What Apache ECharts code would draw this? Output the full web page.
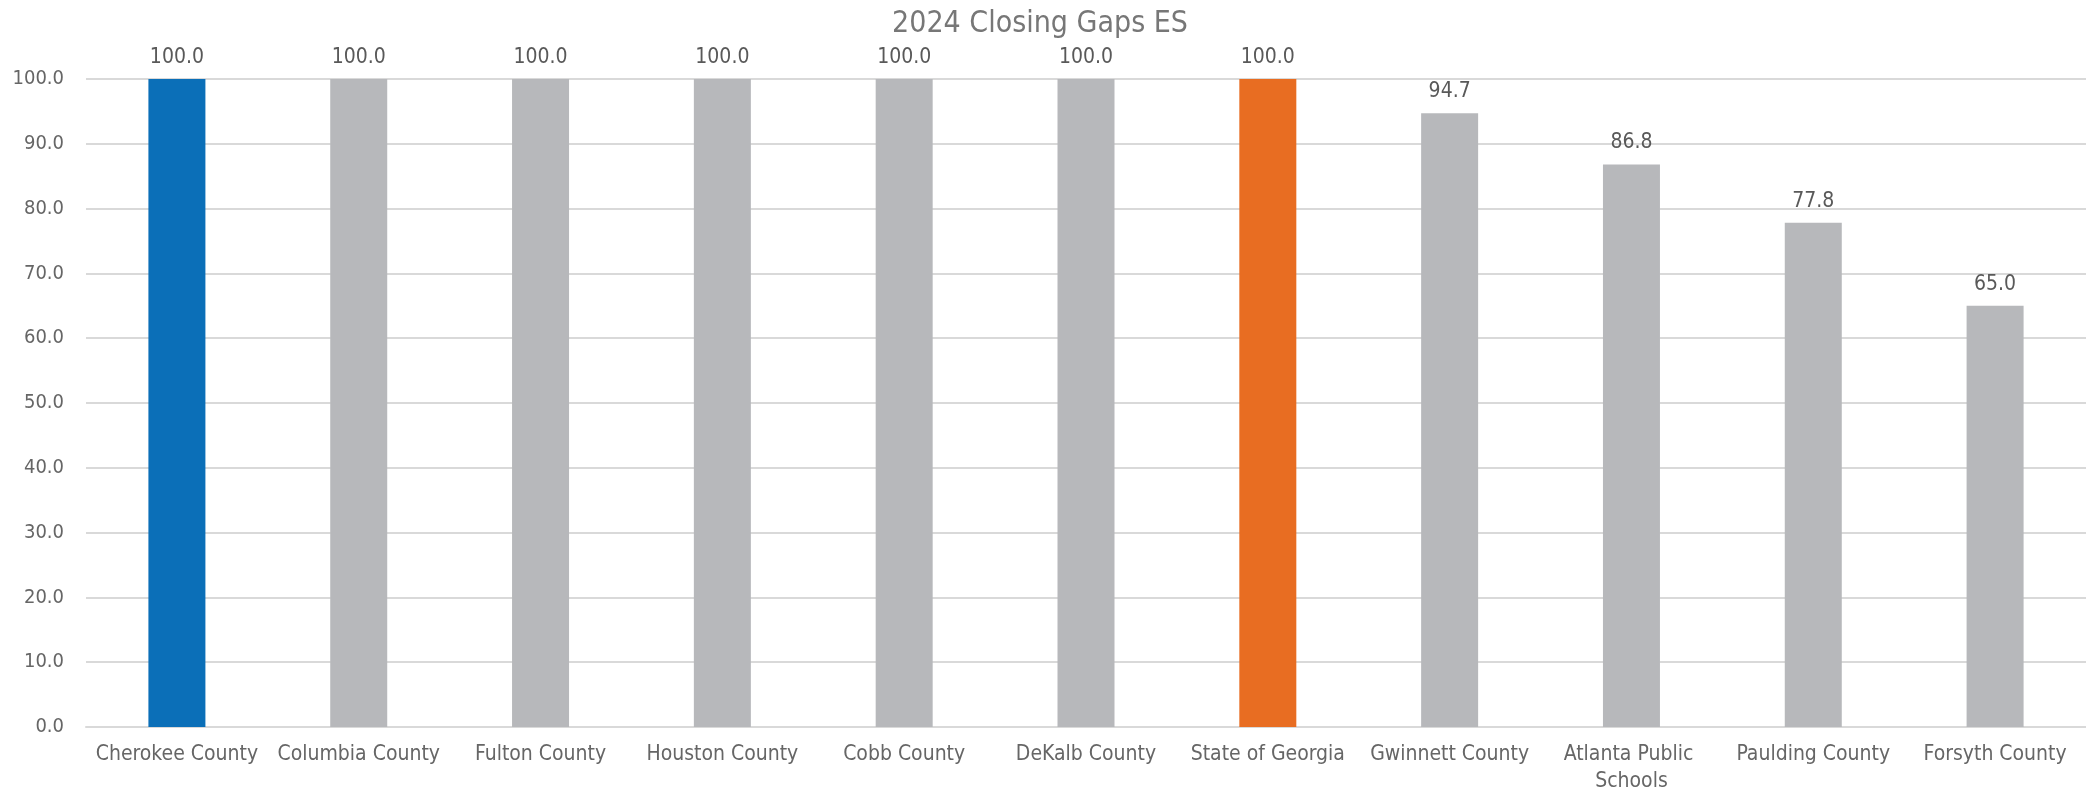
<!DOCTYPE html>
<html>
<head>
<meta charset="utf-8">
<script src="https://cdn.jsdelivr.net/npm/echarts@6/dist/echarts.min.js"></script>
<style>
html,body{margin:0;padding:0;background:#fff;}
#chart{width:2086px;height:796px;}
</style>
</head>
<body>
<div id="chart"></div>
<script>
const titleText = "2024 Closing Gaps ES";
const categories = ["Cherokee County","Columbia County","Fulton County","Houston County","Cobb County","DeKalb County","State of Georgia","Gwinnett County","Atlanta Public Schools","Paulding County","Forsyth County"];
const values = [100.0,100.0,100.0,100.0,100.0,100.0,100.0,94.7,86.8,77.8,65.0];
const barColors = ["#0B6FB8","#B7B8BB","#B7B8BB","#B7B8BB","#B7B8BB","#B7B8BB","#E86D22","#B7B8BB","#B7B8BB","#B7B8BB","#B7B8BB"];

const FONT = '"DejaVu Sans Condensed","Roboto",sans-serif';
const chart = echarts.init(document.getElementById('chart'));
chart.setOption({
  backgroundColor: '#ffffff',
  animation: false,
  title: {
    text: titleText,
    left: 1035, textAlign: 'center', top: 4,
    textStyle: {fontFamily: FONT, fontSize: 30, fontWeight: 'normal', color: '#777777'}
  },
  grid: {left: 86, right: -6, top: 79, bottom: 69, containLabel: false},
  xAxis: {
    type: 'category',
    data: categories,
    axisLine: {show: true, lineStyle: {color: '#D9D9D9', width: 2}},
    axisTick: {show: false},
    axisLabel: {
      interval: 0, margin: 14, color: '#666666', fontFamily: FONT, fontSize: 21,
      width: 176, overflow: 'break', lineHeight: 27
    }
  },
  yAxis: {
    type: 'value', min: 0, max: 100, interval: 10,
    axisLine: {show: false}, axisTick: {show: false},
    splitLine: {lineStyle: {color: '#D9D9D9', width: 2}},
    axisLabel: {
      margin: 22, color: '#666666', fontFamily: FONT, fontSize: 20,
      formatter: v => v.toFixed(1)
    }
  },
  series: [{
    type: 'bar',
    data: values.map((v, i) => ({value: v, itemStyle: {color: barColors[i]}})),
    barWidth: 57,
    label: {
      show: true, position: 'top', distance: 11,
      color: '#595959', fontFamily: FONT, fontSize: 21,
      formatter: p => p.value.toFixed(1)
    }
  }]
});
</script>
</body>
</html>
